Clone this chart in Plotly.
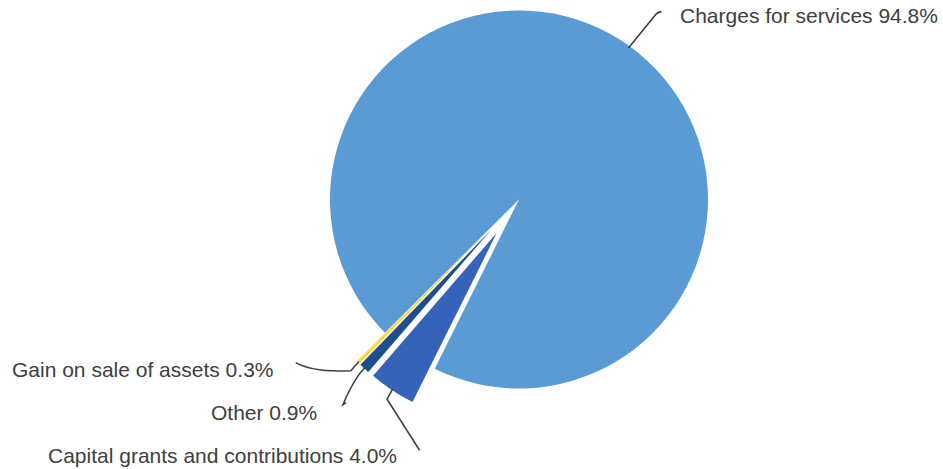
import math
import plotly.graph_objects as go

# ---- data ----
categories = ["Charges for services", "Capital grants and contributions", "Other", "Gain on sale of assets"]
shares = [94.8, 4.0, 0.9, 0.3]
label_texts = ["Charges for services 94.8%", "Capital grants and contributions 4.0%", "Other 0.9%", "Gain on sale of assets 0.3%"]

# ---- styling / layout ----
colors = ["#5B9BD5", "#3563BA", "#1F4E8C", "#FFD83F"]
pull_px = [0, 40, 40, 40]
W, H = 943, 469
CX, CY, R = 519, 199.5, 189
ROTATION = 225.2
FONT = "Liberation Sans, Arial, sans-serif"
TEXT_COLOR = "#404040"
LINE_COLOR = "#404040"

def px(x):
    return x / W

def py(y):
    return 1 - y / H

total = sum(shares)
fig = go.Figure()

mids = []
centers = []
acc = 0.0
for i, v in enumerate(shares):
    start = ROTATION + acc / total * 360
    acc += v
    end = ROTATION + acc / total * 360
    mid = math.radians((start + end) / 2)
    mids.append(mid)
    cx = CX + pull_px[i] * math.sin(mid)
    cy = CY - pull_px[i] * math.cos(mid)
    centers.append((cx, cy))
    cols = ["rgba(0,0,0,0)"] * len(shares)
    cols[i] = colors[i]
    fig.add_trace(go.Pie(
        labels=categories,
        values=shares,
        sort=False,
        direction="clockwise",
        rotation=ROTATION,
        marker=dict(colors=cols, line=dict(width=0)),
        textinfo="none",
        hoverinfo="label+percent",
        showlegend=False,
        domain=dict(x=[px(cx - R), px(cx + R)], y=[py(cy + R), py(cy - R)]),
    ))

def edge(i, extra=0):
    cx, cy = centers[i]
    return (cx + (R + extra) * math.sin(mids[i]), cy - (R + extra) * math.cos(mids[i]))

def P(x, y):
    return f"{px(x):.5f},{py(y):.5f}"

shapes = []
# Charges leader
ex, ey = edge(0, -2)
path0 = f"M{P(ex, ey)} L{P(ex + 26, ey - 32)} Q{P(ex + 29, ey - 36)} {P(ex + 33, ey - 36)}"
# Capital leader
ex1, ey1 = edge(1, -1)
path1 = f"M{P(ex1, ey1)} L{P(ex1 - 5.5, ey1 + 10)} L{P(ex1 + 27, ey1 + 61)}"
# Other leader
ex2, ey2 = edge(2, -1)
path2 = (f"M{P(ex2, ey2)} L{P(ex2 - 6, ey2 + 7)} Q{P(ex2 - 15, ey2 + 20)} {P(ex2 - 22, ey2 + 37)}"
         f" L{P(ex2 - 19, ey2 + 35)}")
# Gain leader
ex3, ey3 = edge(3, -1)
path3 = f"M{P(ex3, ey3)} L{P(ex3 - 8, ey3 + 9)} Q{P(ex3 - 45, ey3 + 11)} {P(ex3 - 63, ey3 + 1)}"
for p in (path0, path1, path2, path3):
    shapes.append(dict(type="path", path=p, xref="paper", yref="paper",
                       line=dict(color=LINE_COLOR, width=1.6)))

ann_pos = [
    (ex + 50, 15, "left"),
    (399, 455, "right"),
    (319, 412, "right"),
    (276, 369, "right"),
]
annotations = []
for (x, y, anchor), t in zip(ann_pos, label_texts):
    annotations.append(dict(x=px(x), y=py(y), xref="paper", yref="paper", text=t,
                            showarrow=False, xanchor=anchor, yanchor="middle",
                            font=dict(family=FONT, size=21, color=TEXT_COLOR)))

fig.update_layout(
    width=W, height=H, autosize=False,
    margin=dict(l=0, r=0, t=0, b=0),
    paper_bgcolor="white", plot_bgcolor="white",
    shapes=shapes, annotations=annotations,
    showlegend=False,
)
fig.write_html("out.html", config={"displayModeBar": False},
               post_script="document.body.style.margin='0';document.body.style.overflow='hidden';")
